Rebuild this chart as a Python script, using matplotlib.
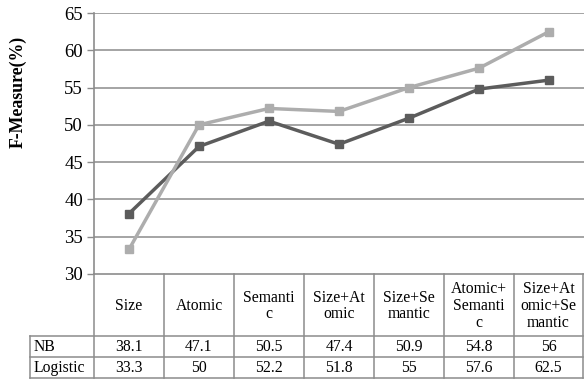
import matplotlib
matplotlib.use("Agg")
import matplotlib.pyplot as plt

categories = ["Size", "Atomic", "Semantic", "Size+Atomic", "Size+Semantic",
              "Atomic+Semantic", "Size+Atomic+Semantic"]
header_labels = ["Size", "Atomic", "Semanti\nc", "Size+At\nomic", "Size+Se\nmantic",
                 "Atomic+\nSemanti\nc", "Size+At\nomic+Se\nmantic"]
series_names = ["NB", "Logistic"]
nb_values = [38.1, 47.1, 50.5, 47.4, 50.9, 54.8, 56]
logistic_values = [33.3, 50, 52.2, 51.8, 55, 57.6, 62.5]
yticks = [30, 35, 40, 45, 50, 55, 60, 65]

W, H = 584, 392
plt.rcParams["font.family"] = ["Liberation Serif", "DejaVu Serif"]
fig = plt.figure(figsize=(W / 100, H / 100), dpi=100)

# pixel layout
ax_left, ax_right, ax_top, ax_bottom = 94, 584, 13, 274
lab_left = 30
row_edges = [274, 336, 357, 378]
grid_color = "#8c8c8c"
fs_table = 11.3

ax = fig.add_axes([ax_left / W, 1 - ax_bottom / H,
                   (ax_right - ax_left) / W, (ax_bottom - ax_top) / H])
n = len(categories)
xs = [i + 0.5 for i in range(n)]
ax.set_xlim(0, n)
ax.set_ylim(30, 65)
ax.set_yticks(yticks)
ax.set_yticklabels([str(t) for t in yticks], fontsize=13.5)
ax.tick_params(axis="y", length=5, width=1.0, color=grid_color, pad=3)
ax.set_xticks([])
for s in ax.spines.values():
    s.set_visible(False)
ax.spines["left"].set_visible(True)
ax.spines["left"].set_color(grid_color)
ax.spines["left"].set_linewidth(1.2)
for t in yticks[1:]:
    ax.axhline(t, color=grid_color, lw=1.1, zorder=0)

ax.plot(xs, nb_values, color="#5c5c5c", lw=2.5, marker="s", ms=5.8,
        zorder=3, clip_on=False)
ax.plot(xs, logistic_values, color="#adadad", lw=2.5, marker="s", ms=5.8,
        zorder=4, clip_on=False)

# overlay in pixel coordinates for the data table
ov = fig.add_axes([0, 0, 1, 1])
ov.set_xlim(0, W)
ov.set_ylim(H, 0)
ov.axis("off")
col_w = (ax_right - ax_left) / n
col_edges = [ax_left + i * col_w for i in range(n + 1)]
col_edges[-1] = ax_right - 1
lw_tab = 1.1
ov.plot([ax_left, ax_right], [row_edges[0]] * 2, color=grid_color, lw=1.2)
for y in row_edges[1:]:
    ov.plot([lab_left, ax_right - 1], [y, y], color=grid_color, lw=lw_tab)
for x in col_edges:
    ov.plot([x, x], [row_edges[0], row_edges[-1]], color=grid_color, lw=lw_tab)
ov.plot([lab_left, lab_left], [row_edges[1], row_edges[-1]], color=grid_color, lw=lw_tab)

hy = (row_edges[0] + row_edges[1]) / 2 + 1
for i, lab in enumerate(header_labels):
    cx = (col_edges[i] + col_edges[i + 1]) / 2
    ov.text(cx, hy, lab, ha="center", va="center", fontsize=fs_table,
            linespacing=1.05)

for r, (name, vals) in enumerate(zip(series_names, [nb_values, logistic_values])):
    cy = (row_edges[r + 1] + row_edges[r + 2]) / 2 + 0.5
    ov.text(lab_left + 4, cy, name, ha="left", va="center", fontsize=fs_table)
    for i, v in enumerate(vals):
        cx = (col_edges[i] + col_edges[i + 1]) / 2
        ov.text(cx, cy, f"{v:g}", ha="center", va="center", fontsize=fs_table)

ov.text(18, 92, "F-Measure(%)", rotation=90, ha="center", va="center",
        fontsize=12.8, fontweight="bold")

fig.savefig("out.png", dpi=100)
